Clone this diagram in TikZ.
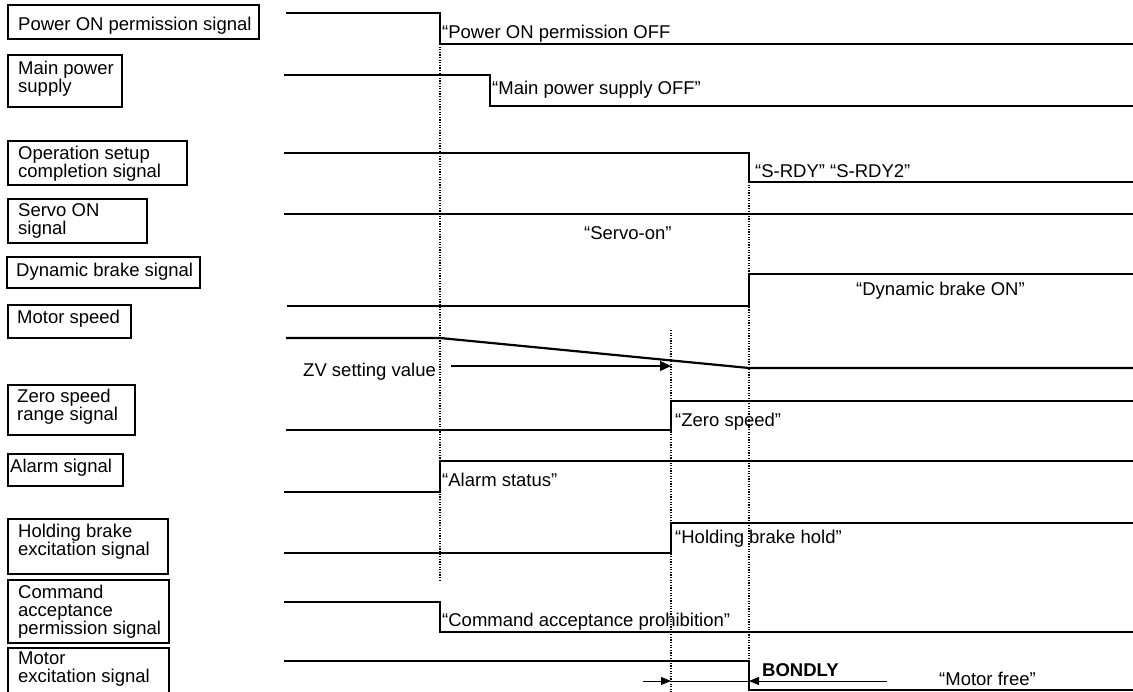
\documentclass[tikz,border=0pt]{standalone}
\usepackage{fontspec}
\setmainfont{Liberation Sans}
\usetikzlibrary{arrows.meta}
\begin{document}
\begin{tikzpicture}[x=1pt,y=-1pt,
  every node/.style={font=\fontsize{18.5}{18}\selectfont, inner sep=0pt},
  lbl/.style={anchor=north west, align=left},
  txt/.style={anchor=base west},
  lbox/.style={draw=black, line width=1.5pt},
  sig/.style={draw=black, line width=2.2pt, line join=miter},
  guide/.style={draw=black, line width=1.2pt, dash pattern=on 1.2pt off 1.4pt},
  zvarrow/.style={draw=black, line width=1.4pt, -{Triangle[length=11pt,width=10pt]}},
  barrow/.style={draw=black, line width=1pt, -{Triangle[length=10pt,width=8pt]}}]
\useasboundingbox (0,0) rectangle (1133,692);

% ---- label boxes ----
\draw[lbox] (8,5) rectangle (259,39);
\node[lbl] (l1) at (18,17) {Power ON permission signal};
\draw[lbox] (8,55) rectangle (122,107);
\node[lbl] (l2) at (18,61) {Main power\\supply};
\draw[lbox] (8,141) rectangle (187,185);
\node[lbl] (l3) at (18,146) {Operation setup\\completion signal};
\draw[lbox] (8,199) rectangle (147,243);
\node[lbl] (l4) at (18,203) {Servo ON\\signal};
\draw[lbox] (7,257) rectangle (200,288);
\node[lbl] (l5) at (16,263) {Dynamic brake signal};
\draw[lbox] (8,305) rectangle (131,338);
\node[lbl] (l6) at (17,310) {Motor speed};
\draw[lbox] (8,385) rectangle (135,435);
\node[lbl] (l7) at (17,389) {Zero speed\\range signal};
\draw[lbox] (8,454) rectangle (123,486);
\node[lbl] (l8) at (10,459) {Alarm signal};
\draw[lbox] (8,519) rectangle (168,574);
\node[lbl] (l9) at (18,524) {Holding brake\\excitation signal};
\draw[lbox] (8,580) rectangle (169,643);
\node[lbl] (l10) at (18,585) {Command\\acceptance\\permission signal};
\draw[lbox] (8,648) rectangle (169,694);
\node[lbl] (l11) at (18,652) {Motor\\excitation signal};

% ---- guide lines ----
\draw[guide] (440,44) -- (440,582);
\draw[guide] (749,182) -- (749,692);
\draw[guide] (671,330) -- (671,692);

% ---- waveforms ----
\draw[sig] (286,13) -- (440,13) -- (440,44) -- (1133,44);
\draw[sig] (284,75) -- (490,75) -- (490,106) -- (1133,106);
\draw[sig] (284,153) -- (749,153) -- (749,182) -- (1133,182);
\draw[sig] (284,214) -- (1133,214);
\draw[sig] (287,306) -- (749,306) -- (749,274) -- (1133,274);
\draw[sig] (286,338) -- (440,338) -- (749,368) -- (1133,368);
\draw[sig] (286,430) -- (671,430) -- (671,401) -- (1133,401);
\draw[sig] (284,492) -- (440,492) -- (440,461) -- (1133,461);
\draw[sig] (284,553) -- (671,553) -- (671,523) -- (1133,523);
\draw[sig] (284,602) -- (440,602) -- (440,632) -- (1133,632);
\draw[sig] (284,661) -- (749,661) -- (749,690) -- (1133,690);

% ---- arrows ----
\draw[zvarrow] (451,366) -- (671,366);
\draw[barrow] (643,681) -- (671,681);
\draw[draw=black, line width=1pt] (671,681) -- (749,681);
\draw[barrow] (887,681) -- (749,681);

% ---- waveform texts ----
\node[txt] (t1) at (442,39) {“Power ON permission OFF};
\node[txt] (t2) at (492,95) {“Main power supply OFF”};
\node[txt] (t3) at (755,178) {“S-RDY” “S-RDY2”};
\node[txt] (t4) at (584,240) {“Servo-on”};
\node[txt] (t5) at (856,296) {“Dynamic brake ON”};
\node[txt] (t6) at (303,377) {ZV setting value};
\node[txt] (t7) at (675,427) {“Zero speed”};
\node[txt] (t8) at (442,486) {“Alarm status”};
\node[txt] (t9) at (675,543) {“Holding brake hold”};
\node[txt] (t10) at (442,626) {“Command acceptance prohibition”};
\node[txt, font=\fontsize{18.5}{18}\selectfont\bfseries] (t11) at (762,676) {BONDLY};
\node[txt] (t12) at (939,685) {“Motor free”};
\end{tikzpicture}
\end{document}
